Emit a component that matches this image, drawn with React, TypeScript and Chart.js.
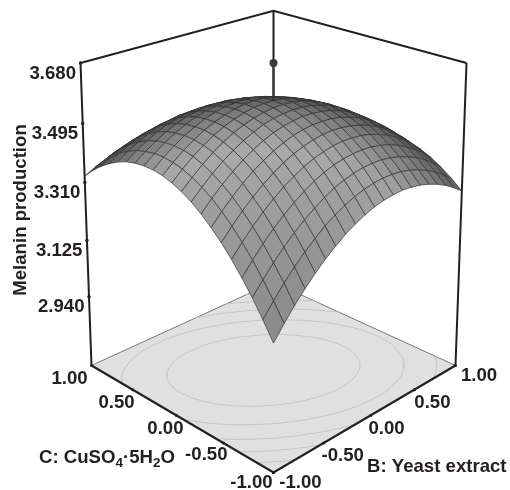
import React, { useEffect, useRef } from "react";
import { Chart, registerables } from "chart.js";

Chart.register(...registerables);

const yeastLevels = [-1, -0.9, -0.8, -0.7, -0.6, -0.5, -0.4, -0.3, -0.2, -0.1, 0, 0.1, 0.2, 0.3, 0.4, 0.5, 0.6, 0.7, 0.8, 0.9, 1];
const copperLevels = [-1, -0.9, -0.8, -0.7, -0.6, -0.5, -0.4, -0.3, -0.2, -0.1, 0, 0.1, 0.2, 0.3, 0.4, 0.5, 0.6, 0.7, 0.8, 0.9, 1];
// one row per copperLevels entry, one column per yeastLevels entry
const melanin = [
  [3.093, 3.134, 3.172, 3.206, 3.237, 3.265, 3.289, 3.311, 3.328, 3.343, 3.354, 3.362, 3.366, 3.368, 3.365, 3.360, 3.351, 3.339, 3.324, 3.305, 3.283],
  [3.145, 3.185, 3.222, 3.255, 3.285, 3.311, 3.335, 3.355, 3.371, 3.384, 3.394, 3.401, 3.404, 3.404, 3.401, 3.394, 3.384, 3.371, 3.354, 3.334, 3.311],
  [3.194, 3.232, 3.267, 3.299, 3.328, 3.353, 3.375, 3.394, 3.410, 3.422, 3.430, 3.436, 3.438, 3.437, 3.432, 3.424, 3.413, 3.399, 3.381, 3.360, 3.335],
  [3.237, 3.275, 3.309, 3.340, 3.367, 3.391, 3.412, 3.430, 3.444, 3.455, 3.462, 3.466, 3.467, 3.465, 3.459, 3.450, 3.438, 3.422, 3.403, 3.381, 3.355],
  [3.277, 3.313, 3.346, 3.376, 3.402, 3.425, 3.444, 3.461, 3.474, 3.483, 3.490, 3.493, 3.492, 3.489, 3.482, 3.471, 3.458, 3.441, 3.421, 3.397, 3.370],
  [3.312, 3.347, 3.379, 3.407, 3.432, 3.454, 3.473, 3.488, 3.499, 3.508, 3.513, 3.515, 3.513, 3.508, 3.500, 3.489, 3.474, 3.456, 3.434, 3.409, 3.381],
  [3.343, 3.377, 3.408, 3.435, 3.459, 3.479, 3.496, 3.510, 3.521, 3.528, 3.532, 3.532, 3.530, 3.524, 3.514, 3.502, 3.486, 3.466, 3.444, 3.418, 3.388],
  [3.370, 3.403, 3.432, 3.458, 3.481, 3.500, 3.516, 3.529, 3.538, 3.544, 3.547, 3.546, 3.542, 3.535, 3.524, 3.510, 3.493, 3.472, 3.449, 3.421, 3.391],
  [3.393, 3.424, 3.452, 3.477, 3.498, 3.516, 3.531, 3.543, 3.551, 3.555, 3.557, 3.555, 3.550, 3.541, 3.530, 3.515, 3.496, 3.474, 3.449, 3.421, 3.389],
  [3.411, 3.441, 3.468, 3.492, 3.512, 3.529, 3.542, 3.552, 3.559, 3.563, 3.563, 3.560, 3.554, 3.544, 3.531, 3.515, 3.495, 3.472, 3.446, 3.416, 3.383],
  [3.425, 3.454, 3.480, 3.502, 3.521, 3.537, 3.549, 3.558, 3.564, 3.566, 3.565, 3.561, 3.553, 3.542, 3.528, 3.511, 3.490, 3.465, 3.438, 3.407, 3.373],
  [3.435, 3.462, 3.487, 3.508, 3.526, 3.540, 3.551, 3.559, 3.564, 3.565, 3.563, 3.557, 3.548, 3.536, 3.521, 3.502, 3.480, 3.455, 3.426, 3.394, 3.359],
  [3.440, 3.467, 3.490, 3.510, 3.526, 3.540, 3.550, 3.556, 3.559, 3.559, 3.556, 3.549, 3.539, 3.526, 3.509, 3.489, 3.466, 3.440, 3.410, 3.376, 3.340],
  [3.441, 3.467, 3.489, 3.507, 3.523, 3.535, 3.543, 3.549, 3.551, 3.550, 3.545, 3.537, 3.526, 3.511, 3.494, 3.472, 3.448, 3.420, 3.389, 3.355, 3.317],
  [3.438, 3.462, 3.483, 3.501, 3.515, 3.526, 3.533, 3.537, 3.538, 3.536, 3.530, 3.521, 3.508, 3.493, 3.474, 3.451, 3.425, 3.396, 3.364, 3.328, 3.289],
  [3.431, 3.454, 3.473, 3.490, 3.503, 3.512, 3.518, 3.521, 3.521, 3.517, 3.510, 3.500, 3.486, 3.470, 3.449, 3.426, 3.399, 3.369, 3.335, 3.298, 3.258],
  [3.419, 3.441, 3.459, 3.474, 3.486, 3.494, 3.500, 3.501, 3.500, 3.495, 3.487, 3.475, 3.460, 3.442, 3.421, 3.396, 3.367, 3.336, 3.301, 3.263, 3.222],
  [3.403, 3.424, 3.441, 3.455, 3.465, 3.472, 3.476, 3.477, 3.474, 3.468, 3.459, 3.446, 3.430, 3.411, 3.388, 3.362, 3.332, 3.300, 3.264, 3.224, 3.182],
  [3.383, 3.402, 3.418, 3.431, 3.440, 3.446, 3.449, 3.448, 3.444, 3.437, 3.426, 3.412, 3.395, 3.375, 3.350, 3.323, 3.293, 3.259, 3.222, 3.181, 3.138],
  [3.359, 3.377, 3.392, 3.403, 3.411, 3.416, 3.417, 3.415, 3.410, 3.402, 3.390, 3.375, 3.356, 3.334, 3.310, 3.282, 3.249, 3.214, 3.176, 3.134, 3.089],
  [3.330, 3.347, 3.360, 3.371, 3.377, 3.381, 3.381, 3.378, 3.372, 3.362, 3.349, 3.333, 3.313, 3.290, 3.265, 3.234, 3.201, 3.165, 3.125, 3.082, 3.036],
];

const zTicks = [2.94, 3.125, 3.31, 3.495, 3.68];
const zTickLabels = ["2.940", "3.125", "3.310", "3.495", "3.680"];
const floorTicks = [-1, -0.5, 0, 0.5, 1];
const floorTickLabels = ["-1.00", "-0.50", "0.00", "0.50", "1.00"];
const contourLevels = [3.175, 3.255, 3.335, 3.415, 3.495];
const centerPointValue = 3.68;
const centerSurfaceValue = 3.565;
const zFloor = 2.709;
const zTop = 3.68;

// label offsets from each tick, in pixels
const copperLabelOffsets = [[-22, 10], [-17, 12], [-11, 13], [-16, 13], [-22, 13]];
const yeastLabelOffsets = [[27, 10], [19, 13], [16, 13], [18, 13], [23.5, 10]];

const FONT = '"Liberation Sans", Arial, sans-serif';
const FONT_SIZE = 18.6;

type P = { x: number; y: number };

function project(b: number, c: number, z: number): P {
  const s = (b - c) / 2;
  const t = (b + c) / 2;
  const h = (z - zFloor) / (zTop - zFloor);
  const w = 1 + 0.125 * t - 0.057 * h;
  return { x: 273.5 + (182 * s) / w, y: (365.5 - 48 * t - 306.1 * h) / w };
}

function polyArea(p: P[]) {
  let a = 0;
  for (let i = 0; i < p.length; i++) {
    const q = p[(i + 1) % p.length];
    a += p[i].x * q.y - q.x * p[i].y;
  }
  return Math.abs(a) / 2;
}

function buildSurface() {
  const n = yeastLevels.length;
  const m = copperLevels.length;
  const cells: { key: number; pts: P[]; area: number; slope: number }[] = [];
  for (let j = 0; j < m - 1; j++) {
    for (let i = 0; i < n - 1; i++) {
      const b0 = yeastLevels[i], b1 = yeastLevels[i + 1];
      const c0 = copperLevels[j], c1 = copperLevels[j + 1];
      const z00 = melanin[j][i], z10 = melanin[j][i + 1], z01 = melanin[j + 1][i], z11 = melanin[j + 1][i + 1];
      const pts = [project(b0, c0, z00), project(b1, c0, z10), project(b1, c1, z11), project(b0, c1, z01)];
      const gb = ((z10 + z11 - z00 - z01) / 2 / (b1 - b0)) / (zTop - zFloor);
      const gc = ((z01 + z11 - z00 - z10) / 2 / (c1 - c0)) / (zTop - zFloor);
      cells.push({ key: i + j, pts, area: polyArea(pts), slope: gb * gb + gc * gc });
    }
  }
  const refArea = cells[Math.floor(cells.length / 2)].area;
  cells.sort((a, b) => b.key - a.key);
  return cells.map((cell) => {
    const compress = Math.min(1, cell.area / refArea);
    const light = 1 / Math.sqrt(1 + 1.37 * cell.slope);
    const g = Math.round((56 + 122 * Math.pow(compress, 0.8)) * light);
    return {
      type: "scatter",
      data: [...cell.pts, cell.pts[0]],
      showLine: true,
      fill: "shape",
      backgroundColor: `rgb(${g},${g},${g})`,
      borderColor: "rgba(50,50,50,0.85)",
      borderWidth: 0.8,
      pointRadius: 0,
      tension: 0,
    };
  });
}

function buildContours() {
  const out: P[] = [];
  const gap = { x: NaN, y: NaN };
  for (const level of contourLevels) {
    for (let j = 0; j < copperLevels.length - 1; j++) {
      for (let i = 0; i < yeastLevels.length - 1; i++) {
        const corners = [
          [yeastLevels[i], copperLevels[j], melanin[j][i]],
          [yeastLevels[i + 1], copperLevels[j], melanin[j][i + 1]],
          [yeastLevels[i + 1], copperLevels[j + 1], melanin[j + 1][i + 1]],
          [yeastLevels[i], copperLevels[j + 1], melanin[j + 1][i]],
        ];
        const hits: P[] = [];
        for (let k = 0; k < 4; k++) {
          const a = corners[k], b = corners[(k + 1) % 4];
          if (a[2] < level !== b[2] < level) {
            const f = (level - a[2]) / (b[2] - a[2]);
            hits.push(project(a[0] + f * (b[0] - a[0]), a[1] + f * (b[1] - a[1]), zFloor));
          }
        }
        if (hits.length >= 2) out.push(hits[0], hits[1], gap);
      }
    }
  }
  return out;
}

const line = (data: P[], color: string, width: number, extra: object = {}) => ({
  type: "scatter",
  data,
  showLine: true,
  fill: false,
  borderColor: color,
  backgroundColor: color,
  borderWidth: width,
  pointRadius: 0,
  tension: 0,
  ...extra,
});

const textPlugin = {
  id: "axisText",
  afterDraw(chart: any) {
    const { ctx, scales } = chart;
    const px = (p: P) => ({ x: scales.x.getPixelForValue(p.x), y: scales.y.getPixelForValue(p.y) });
    ctx.save();
    ctx.fillStyle = "#231f20";
    ctx.font = `bold ${FONT_SIZE}px ${FONT}`;
    ctx.textBaseline = "middle";
    ctx.textAlign = "right";
    zTicks.forEach((v, i) => {
      const p = px(project(-1, 1, v));
      ctx.fillText(zTickLabels[i], p.x - 4.5, p.y + 10.5);
    });
    ctx.textAlign = "center";
    floorTicks.forEach((v, i) => {
      const c = px(project(-1, v, zFloor));
      ctx.fillText(floorTickLabels[i], c.x + copperLabelOffsets[i][0], c.y + copperLabelOffsets[i][1]);
      const b = px(project(v, -1, zFloor));
      ctx.fillText(floorTickLabels[i], b.x + yeastLabelOffsets[i][0], b.y + yeastLabelOffsets[i][1]);
    });
    ctx.save();
    ctx.translate(21, 210);
    ctx.rotate(-Math.PI / 2);
    ctx.fillText("Melanin production", 0, 0);
    ctx.restore();
    ctx.textAlign = "left";
    ctx.fillText("B: Yeast extract", 367, 467);
    let x = 39;
    const y = 458;
    const parts: [string, boolean][] = [["C: CuSO", false], ["4", true], ["\u00b75H", false], ["2", true], ["O", false]];
    for (const [txt, sub] of parts) {
      ctx.font = `bold ${sub ? 13.5 : FONT_SIZE}px ${FONT}`;
      ctx.fillText(txt, x, y + (sub ? 5 : 0));
      x += ctx.measureText(txt).width;
    }
    ctx.restore();
  },
};

export default function App() {
  const ref = useRef<HTMLCanvasElement>(null);
  useEffect(() => {
    const zAxisTicks = zTicks.map((v) => project(-1, 1, v));
    const edgeTicks = floorTicks.flatMap((v) => [project(-1, v, zFloor), project(v, -1, zFloor)]);
    const floorPts = [project(-1, -1, zFloor), project(1, -1, zFloor), project(1, 1, zFloor), project(-1, 1, zFloor)];
    const drawOrder: any[] = [
      line([...floorPts, floorPts[0]], "#e0e0e0", 0, { fill: "shape" }),
      line([floorPts[3], floorPts[2], floorPts[1]], "#777777", 1),
      line(buildContours(), "#c6c6c6", 1, { spanGaps: false }),
      line([project(1, 1, zFloor), project(1, 1, zTop)], "#231f20", 2),
      line([project(-1, 1, zTop), project(1, 1, zTop), project(1, -1, zTop)], "#231f20", 2),
      line([project(-1, 1, zFloor), project(-1, 1, zTop)], "#231f20", 2),
      line([project(1, -1, zFloor), project(1, -1, zTop)], "#231f20", 2),
      ...buildSurface(),
      line([project(-1, 1, zFloor), project(-1, -1, zFloor), project(1, -1, zFloor)], "#231f20", 2.2),
      line([project(0, 0, centerSurfaceValue), project(0, 0, centerPointValue)], "#333333", 2),
      line([project(0, 0, centerPointValue)], "#3a3a3a", 0, { pointRadius: 4, showLine: false }),
      line(zAxisTicks, "#231f20", 0, { pointRadius: 1.7, showLine: false }),
      line(edgeTicks, "#231f20", 0, { pointRadius: 1.5, showLine: false }),
    ];
    const chart = new Chart(ref.current as HTMLCanvasElement, {
      type: "scatter",
      data: { datasets: drawOrder.reverse() },
      options: {
        responsive: false,
        animation: false,
        layout: { padding: 0, autoPadding: false },
        plugins: { legend: { display: false }, tooltip: { enabled: false } },
        events: [],
        scales: {
          x: { type: "linear", display: false, min: 0, max: 510 },
          y: { type: "linear", display: false, reverse: true, min: 0, max: 490 },
        },
      },
      plugins: [textPlugin],
    } as any);
    return () => chart.destroy();
  }, []);
  return (
    <div style={{ position: "absolute", left: 0, top: 0, width: 510, height: 490, background: "#fff" }}>
      <canvas ref={ref} width={510} height={490} style={{ display: "block" }} />
    </div>
  );
}
